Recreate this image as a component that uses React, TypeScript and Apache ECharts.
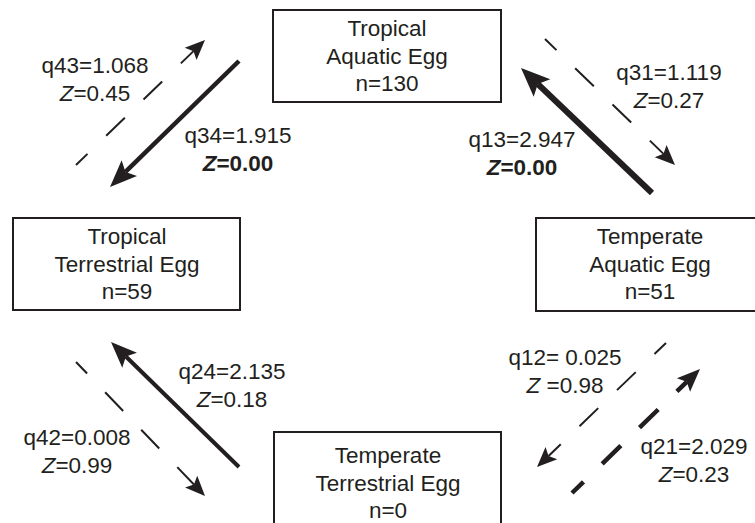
import React, { useEffect, useRef } from "react";
import * as echarts from "echarts";

// ---- States (boxes) ----
const stateNames = [
  "Tropical\nAquatic Egg\nn=130",
  "Tropical\nTerrestrial Egg\nn=59",
  "Temperate\nAquatic Egg\nn=51",
  "Temperate\nTerrestrial Egg\nn=0",
];
const stateLeft = [273, 13, 536, 274];
const stateTop = [10, 218, 218, 432];
const stateRight = [501, 240, 764, 501];
const stateBottom = [102, 310, 311, 526];
const stateTextX = [387, 127, 650, 388];
const stateTextY = [56, 264, 264, 483];

// ---- Transition rates ----
const rateLabels = ["q43=1.068", "q34=1.915", "q31=1.119", "q13=2.947", "q24=2.135", "q42=0.008", "q12= 0.025", "q21=2.029"];
const zSigns = ["=", "=", "=", "=", "=", "=", " =", "="];
const zValues = ["0.45", "0.00", "0.27", "0.00", "0.18", "0.99", "0.98", "0.23"];
const labelX = [95, 238, 669, 522, 232, 77, 565, 694];
const labelY = [79, 149, 86, 153, 385, 451, 371, 460];

// ---- Arrows (same order as rates) ----
const arrowStartX = [76, 239, 545, 652, 239, 76, 666, 572];
const arrowStartY = [165, 61, 39, 193, 467, 362, 343, 493];
const arrowTipX = [205, 110, 675, 521, 111, 205, 537, 700];
const arrowTipY = [40, 187, 165, 68, 342, 496, 467, 369];
const arrowDashed = [true, false, true, false, false, true, true, true];
const arrowWidth = [2, 4.5, 2, 6, 4, 2, 2, 4.5];
const headLen = [20, 27, 20, 29, 26, 20, 20, 23];
const headWid = [17, 22, 17, 24, 21, 17, 17, 19];

const INK = "#231f20";
const FONT = "'Liberation Sans', Arial, Helvetica, sans-serif";
const FS = 22.5;

export default function App() {
  const ref = useRef<HTMLDivElement>(null);
  useEffect(() => {
    document.body.style.margin = "0";
    if (!ref.current) return;
    const chart = echarts.init(ref.current, undefined, { renderer: "svg" });

    const boxData = stateNames.map((_, i) => [
      stateLeft[i], stateTop[i], stateRight[i], stateBottom[i], stateTextX[i], stateTextY[i],
    ]);
    const arrowData = arrowStartX.map((_, i) => [
      arrowStartX[i], arrowStartY[i], arrowTipX[i], arrowTipY[i],
    ]);
    const labelData = rateLabels.map((_, i) => [labelX[i], labelY[i]]);

    const option: any = {
      animation: false,
      backgroundColor: "#ffffff",
      grid: { left: 0, right: 0, top: 0, bottom: 0 },
      xAxis: { type: "value", min: 0, max: 755, show: false },
      yAxis: { type: "value", min: 0, max: 523, inverse: true, show: false },
      series: [
        {
          type: "custom",
          coordinateSystem: "cartesian2d",
          clip: false,
          data: arrowData,
          renderItem: (params: any, api: any) => {
            const i = params.dataIndex;
            const s = api.coord([api.value(0), api.value(1)]);
            const t = api.coord([api.value(2), api.value(3)]);
            const dx = t[0] - s[0];
            const dy = t[1] - s[1];
            const L = Math.hypot(dx, dy);
            const ux = dx / L, uy = dy / L;
            const px = -uy, py = ux;
            const hl = headLen[i], hw = headWid[i] / 2;
            const bx = t[0] - ux * hl, by = t[1] - uy * hl;
            const nx = t[0] - ux * hl * 0.8, ny = t[1] - uy * hl * 0.8;
            return {
              type: "group",
              children: [
                {
                  type: "line",
                  shape: { x1: s[0], y1: s[1], x2: nx, y2: ny },
                  style: {
                    stroke: INK,
                    lineWidth: arrowWidth[i],
                    lineCap: "butt",
                    lineDash: arrowDashed[i] ? [26, 26] : null,
                    lineDashOffset: arrowDashed[i] ? 10 : 0,
                    fill: null,
                  },
                },
                {
                  type: "polygon",
                  shape: {
                    points: [
                      [t[0], t[1]],
                      [bx + px * hw, by + py * hw],
                      [nx, ny],
                      [bx - px * hw, by - py * hw],
                    ],
                  },
                  style: { fill: INK, stroke: null },
                },
              ],
            };
          },
        },
        {
          type: "custom",
          coordinateSystem: "cartesian2d",
          clip: false,
          data: boxData,
          renderItem: (params: any, api: any) => {
            const i = params.dataIndex;
            const p0 = api.coord([api.value(0), api.value(1)]);
            const p1 = api.coord([api.value(2), api.value(3)]);
            const c = api.coord([api.value(4), api.value(5)]);
            return {
              type: "group",
              children: [
                {
                  type: "rect",
                  shape: { x: p0[0], y: p0[1], width: p1[0] - p0[0], height: p1[1] - p0[1] },
                  style: { fill: "#ffffff", stroke: INK, lineWidth: 2 },
                },
                {
                  type: "text",
                  style: {
                    text: stateNames[i],
                    x: c[0],
                    y: c[1],
                    align: "center",
                    verticalAlign: "middle",
                    fontSize: FS,
                    fontFamily: FONT,
                    lineHeight: 27.5,
                    fill: INK,
                  },
                },
              ],
            };
          },
        },
        {
          type: "custom",
          coordinateSystem: "cartesian2d",
          clip: false,
          data: labelData,
          renderItem: (params: any, api: any) => {
            const i = params.dataIndex;
            const c = api.coord([api.value(0), api.value(1)]);
            const sig = zValues[i] === "0.00";
            const zLine = sig
              ? `{zb|Z}{b|${zSigns[i]}${zValues[i]}}`
              : `{zi|Z}{n|${zSigns[i]}${zValues[i]}}`;
            return {
              type: "text",
              style: {
                text: `{n|${rateLabels[i]}}\n${zLine}`,
                x: c[0],
                y: c[1],
                align: "center",
                verticalAlign: "middle",
                fontSize: FS,
                fontFamily: FONT,
                lineHeight: 28,
                fill: INK,
                rich: {
                  n: { fontSize: FS, fontFamily: FONT, lineHeight: 28, fill: INK },
                  zi: { fontSize: FS, fontFamily: FONT, fontStyle: "italic", lineHeight: 28, fill: INK },
                  zb: { fontSize: FS, fontFamily: FONT, fontStyle: "italic", fontWeight: "bold", lineHeight: 28, fill: INK },
                  b: { fontSize: FS, fontFamily: FONT, fontWeight: "bold", lineHeight: 28, fill: INK },
                },
              },
            };
          },
        },
      ],
    };
    chart.setOption(option);
    return () => chart.dispose();
  }, []);
  return <div ref={ref} style={{ width: 755, height: 523 }} />;
}
